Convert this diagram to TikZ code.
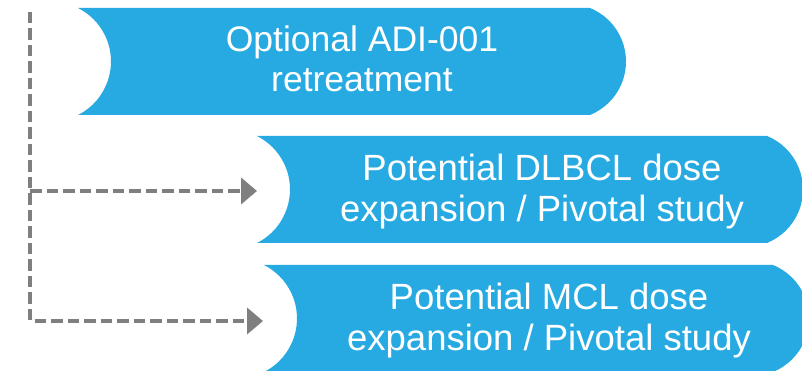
\documentclass[tikz,border=0pt]{standalone}
\usepackage{fontspec}
\setmainfont{Liberation Sans}
\usetikzlibrary{arrows.meta}
\definecolor{shapeblue}{HTML}{27AAE1}
\definecolor{dashgray}{HTML}{7F7F7F}
\tikzset{
  bluefill/.style={fill=shapeblue},
  dashline/.style={draw=dashgray, line width=4pt, dash pattern=on 11.5pt off 5pt,
    -{Triangle[length=16pt,width=26pt]}},
  lbl/.style={text=white, align=center, inner sep=0pt, anchor=base},
  bigfont/.style={font=\fontsize{35.5}{40.5}\selectfont},
  midfont/.style={font=\fontsize{36.5}{41}\selectfont},
}
\begin{document}
\begin{tikzpicture}[x=1pt,y=1pt]
\useasboundingbox (0,0) rectangle (802,371);
\clip (0,0) rectangle (802,371);
% shape 1
\fill[bluefill] (78,363) -- (590,363) arc[start angle=67.87, end angle=-67.87, radius=57.75]
  -- (78,256) arc[start angle=-63.33, end angle=63.33, radius=59.87] -- cycle;
% shape 2
\fill[bluefill] (257,235) -- (767,235) arc[start angle=67.87, end angle=-67.87, radius=57.75]
  -- (257,128) arc[start angle=-63.33, end angle=63.33, radius=59.87] -- cycle;
% shape 3
\fill[bluefill] (264,106) -- (773,106) arc[start angle=67.87, end angle=-67.87, radius=57.75]
  -- (264,-1) arc[start angle=-63.33, end angle=63.33, radius=59.87] -- cycle;
% texts (base anchor = baseline of the last line)
\node[lbl, bigfont] (t1) at (362,279) {Optional ADI-001\\retreatment};
\node[lbl, midfont] (t2) at (542,149) {Potential DLBCL dose\\expansion / Pivotal study};
\node[lbl, midfont] (t3) at (549,20) {Potential MCL dose\\expansion / Pivotal study};
% connectors
\coordinate (top) at (30,359);
\coordinate (j2) at (30,180);
\coordinate (a2) at (257,180);
\coordinate (a3) at (263,50);
\draw[dashline] (top) |- (a3);
\draw[dashline] (j2) -- (a2);
\end{tikzpicture}
\end{document}
